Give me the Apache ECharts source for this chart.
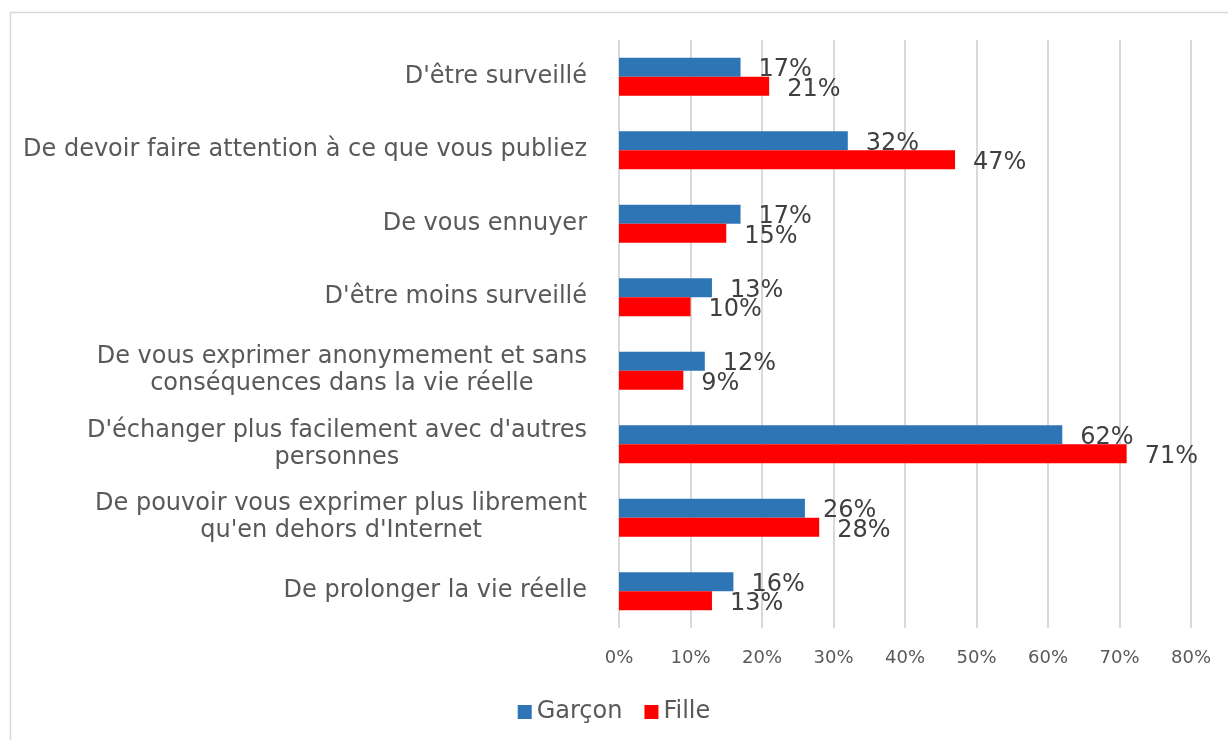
<!DOCTYPE html>
<html>
<head>
<meta charset="utf-8">
<script src="https://cdn.jsdelivr.net/npm/echarts@6/dist/echarts.min.js"></script>
<style>
  html, body { margin: 0; padding: 0; background: #ffffff; }
  #chart { width: 1228px; height: 740px; }
</style>
</head>
<body>
<div id="chart"></div>
<script>
// categories, top to bottom
const categories = [
  "D'être surveillé",
  'De devoir faire attention à ce que vous publiez',
  'De vous ennuyer',
  "D'être moins surveillé",
  'De vous exprimer anonymement et sans\nconséquences dans la vie réelle',
  "D'échanger plus facilement avec d'autres\npersonnes",
  'De pouvoir vous exprimer plus librement\nqu\'en dehors d\'Internet',
  'De prolonger la vie réelle'
]
const garcon = [17, 32, 17, 13, 12, 62, 26, 16]
const fille = [21, 47, 15, 10, 9, 71, 28, 13]
const seriesNames = ['Garçon', 'Fille']

const chart = echarts.init(document.getElementById('chart'))

const labelStyle = {
  show: true,
  position: 'right',
  distance: 18,
  offset: [0, 3],
  formatter: '{c}%',
  color: '#404040',
  fontSize: 24,
  fontFamily: 'DejaVu Sans'
}

chart.setOption({
  animation: false,
  textStyle: { fontFamily: 'DejaVu Sans' },
  graphic: [{
    type: 'rect',
    shape: { x: 10.5, y: 12.5, width: 1240, height: 760 },
    style: { fill: 'none', stroke: '#d9d9d9', lineWidth: 1.5 },
    silent: true
  }],
  legend: {
    data: seriesNames,
    bottom: 11,
    left: 'center',
    itemWidth: 14,
    itemHeight: 14,
    itemGap: 22,
    icon: 'rect',
    textStyle: { fontSize: 24, color: '#595959', fontFamily: 'DejaVu Sans' }
  },
  grid: {
    left: 619,
    right: 37,
    top: 40,
    bottom: 112,
    containLabel: false
  },
  xAxis: {
    type: 'value',
    min: 0,
    max: 80,
    interval: 10,
    axisLine: { show: false },
    axisTick: { show: false },
    splitLine: { lineStyle: { color: '#d9d9d9', width: 2 } },
    axisLabel: {
      formatter: '{value}%',
      fontSize: 18,
      color: '#595959',
      margin: 21
    }
  },
  yAxis: {
    type: 'category',
    inverse: true,
    data: categories,
    axisLine: { show: false },
    axisTick: { show: false },
    axisLabel: {
      margin: 32,
      fontSize: 24,
      color: '#595959',
      lineHeight: 27,
      formatter: v => '{c|' + v + '}',
      rich: {
        c: { align: 'center', fontSize: 24, color: '#595959', lineHeight: 27 }
      }
    }
  },
  series: [
    {
      name: seriesNames[0],
      type: 'bar',
      data: garcon,
      barGap: '0%',
      barCategoryGap: '48%',
      itemStyle: { color: '#2e75b6' },
      label: labelStyle
    },
    {
      name: seriesNames[1],
      type: 'bar',
      data: fille,
      itemStyle: { color: '#ff0000' },
      label: labelStyle
    }
  ]
})
</script>
</body>
</html>
